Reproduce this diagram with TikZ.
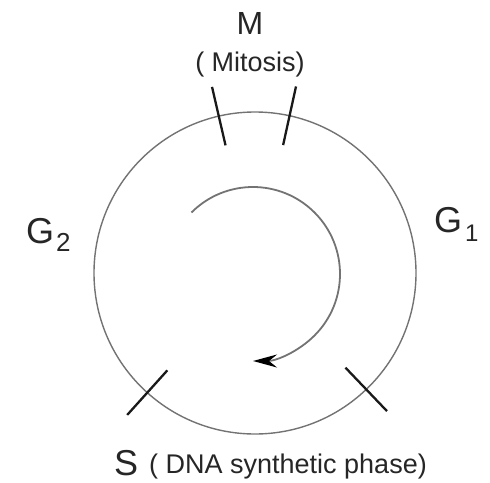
\documentclass[tikz,border=0pt]{standalone}
\usepackage{fontspec}
\setmainfont{Liberation Sans}
\usetikzlibrary{calc,arrows.meta}
\begin{document}
\begin{tikzpicture}[x=1pt,y=1pt,
  cyc/.style={draw=black!55, line width=1.4pt},
  tickline/.style={draw=black!90, line width=2.3pt},
  flow/.style={draw=black!55, line width=1.8pt, -{Stealth[length=24pt,width=13pt,inset=8pt,color=black]}},
  big/.style={font=\fontsize{36}{36}\selectfont, inner sep=0pt, text=black!85},
  mid/.style={font=\fontsize{32}{32}\selectfont, inner sep=0pt, text=black!85},
  small/.style={font=\fontsize{27}{27}\selectfont, inner sep=0pt, text=black!85}
]
\useasboundingbox (0,0) rectangle (490,-482);
\coordinate (c) at (255,-273);
\coordinate (ic) at (253,-274);
\draw[cyc] (c) circle[radius=161];
\foreach \a/\n in {103/ta,77.6/tb,228/tc,313.7/td}{
  \coordinate (\n1) at ($(c)+(\a:131)$);
  \coordinate (\n2) at ($(c)+(\a:191)$);
  \draw[tickline] (\n1) -- (\n2);
}
\coordinate (as) at ($(ic)+(135:87)$);
\draw[flow] (as) arc[start angle=135, end angle=-90, radius=87];
\node[mid, anchor=base] (m) at (250,-34) {M};
\node[small, anchor=base] (mit) at (250,-71) {( Mitosis)};
\node[big, anchor=base west] (g2) at (26,-243) {G\kern2pt\raisebox{-8pt}{\fontsize{26}{26}\selectfont 2}};
\node[big, anchor=base west] (g1) at (434,-232) {G\kern3pt\raisebox{-9pt}{\fontsize{24}{24}\selectfont 1}};
\node[big, anchor=base west] (s) at (114,-475) {S};
\node[small, anchor=base west] (dna) at (149,-473) {( DNA synthetic phase)};
\end{tikzpicture}
\end{document}
